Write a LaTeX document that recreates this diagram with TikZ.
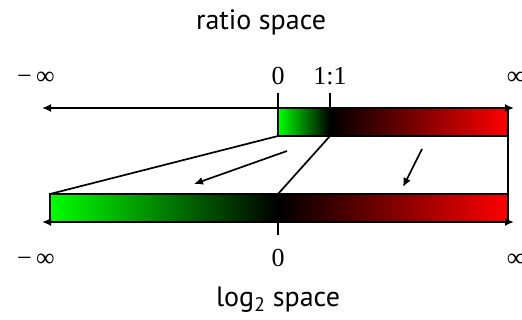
\documentclass[tikz,border=0pt]{standalone}
\usepackage{fontspec}
\setmainfont{Liberation Serif}
\setsansfont{PT Sans}
\usetikzlibrary{arrows.meta,positioning,calc}

\begin{document}
\begin{tikzpicture}[x=1pt, y=-1pt, >={Latex[length=9pt,width=8pt]}, line width=1.7pt]
\tikzstyle{lbl}=[inner sep=0pt, anchor=base, font=\fontsize{26}{26}\selectfont]
\tikzstyle{title}=[inner sep=0pt, anchor=base, font=\sffamily\fontsize{28}{28}\selectfont]
\tikzstyle{greenpart}=[left color=green, right color=black]
\tikzstyle{redpart}=[left color=black, right color=red]
\useasboundingbox (0,0) rectangle (522,320);
% ratio space
\coordinate (rl) at (42,108);
\coordinate (r0) at (278,108);
\coordinate (r1) at (330,108);
\coordinate (rr) at (514,108);
\coordinate (r0b) at (278,136);
\coordinate (r1b) at (330,136);
\coordinate (rend) at (508,108);
\coordinate (rendb) at (508,136);
% log2 space
\coordinate (ll) at (42,222);
\coordinate (lstart) at (50,194);
\coordinate (lstartb) at (50,222);
\coordinate (l0) at (278,194);
\coordinate (l0b) at (278,222);
\coordinate (lend) at (508,194);
\coordinate (lendb) at (508,222);
\coordinate (lr) at (514,222);
% bars
\shade[greenpart] (r0) rectangle (r1b);
\shade[redpart] (r1) rectangle (rendb);
\shade[greenpart] (lstart) rectangle (l0b);
\shade[redpart] (l0) rectangle (lendb);
\draw (r0) rectangle (rendb);
\draw (lstart) rectangle (lendb);
% axes
\draw[->] (rend) -- (rl);
\draw[->] (r0) -- (rr);
\draw[->] (l0b) -- (ll);
\draw[->] (l0b) -- (lr);
\draw (rend) -- (lendb);
% ticks
\draw (r0) -- ++(0,-15);
\draw (r1) -- ++(0,-15);
\draw (l0b) -- ++(0,13);
% mapping
\draw (r0b) -- (lstart);
\draw (r1b) -- (l0);
\coordinate (a1) at (287,151);
\coordinate (b1) at (194,184);
\coordinate (a2) at (422,149);
\coordinate (b2) at (403,187);
\draw[->] (a1) -- (b1);
\draw[->] (a2) -- (b2);
% labels
\node[title] (rtitle) at (261,30) {ratio space};
\node[lbl] (rminf) at (36,85) {−\,∞};
\node[lbl] (rzero) at (278,85) {0};
\node[lbl] (rone) at (330,85) {1:1};
\node[lbl, anchor=base west] (rinf) at (506,85) {∞};
\node[lbl] (lminf) at (36,267) {−\,∞};
\node[lbl] (lzero) at (278,267) {0};
\node[lbl, anchor=base west] (linf) at (506,267) {∞};
\node[title] (ltitle) at (278,306) {log\textsubscript{2} space};
\end{tikzpicture}
\end{document}
